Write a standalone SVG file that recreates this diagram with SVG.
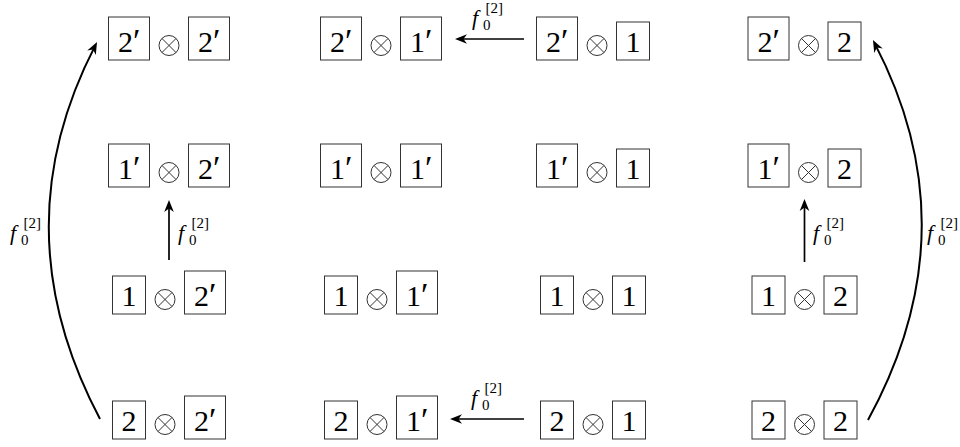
<svg xmlns="http://www.w3.org/2000/svg" width="960" height="447" viewBox="0 0 960 447">
<defs>
<g id="ot"><circle cx="0" cy="0" r="10" fill="none" stroke="#333" stroke-width="1"/><path d="M-7.07,-7.07L7.07,7.07M-7.07,7.07L7.07,-7.07" stroke="#333" stroke-width="1"/></g>
<rect id="bp" x="0" y="-43" width="41" height="43" fill="none" stroke="#333" stroke-width="1"/>
<rect id="bu" x="0" y="-38" width="33" height="38" fill="none" stroke="#333" stroke-width="1"/>
<marker id="ah" markerUnits="userSpaceOnUse" viewBox="-17 -6 18 12" refX="-4" refY="0" markerWidth="18" markerHeight="12" orient="auto"><path d="M0,0L-12,-4.8L-8.5,0L-12,4.8Z" fill="#000"/></marker>
</defs>
<rect width="960" height="447" fill="#fff"/>

<g id="n-2p-2p" transform="translate(108.5,60)"><use href="#bp"/><text font-family="Liberation Serif, serif" font-size="30" x="9.5" y="-8">2<tspan font-size="34">′</tspan></text><use href="#ot" x="60.5" y="-14.5"/><use href="#bp" x="80"/><text font-family="Liberation Serif, serif" font-size="30" x="89.5" y="-8">2<tspan font-size="34">′</tspan></text></g>
<g id="n-2p-1p" transform="translate(320.5,60)"><use href="#bp"/><text font-family="Liberation Serif, serif" font-size="30" x="9.5" y="-8">2<tspan font-size="34">′</tspan></text><use href="#ot" x="60.5" y="-14.5"/><use href="#bp" x="80"/><text font-family="Liberation Serif, serif" font-size="30" x="89.5" y="-8">1<tspan font-size="34">′</tspan></text></g>
<g id="n-2p-1" transform="translate(536.5,60)"><use href="#bp"/><text font-family="Liberation Serif, serif" font-size="30" x="9.5" y="-8">2<tspan font-size="34">′</tspan></text><use href="#ot" x="60.5" y="-14.5"/><use href="#bu" x="80"/><text font-family="Liberation Serif, serif" font-size="30" text-anchor="middle" x="96.5" y="-8">1</text></g>
<g id="n-2p-2" transform="translate(748,60)"><use href="#bp"/><text font-family="Liberation Serif, serif" font-size="30" x="9.5" y="-8">2<tspan font-size="34">′</tspan></text><use href="#ot" x="60.5" y="-14.5"/><use href="#bu" x="80"/><text font-family="Liberation Serif, serif" font-size="30" text-anchor="middle" x="96.5" y="-8">2</text></g>

<g id="n-1p-2p" transform="translate(108.5,187)"><use href="#bp"/><text font-family="Liberation Serif, serif" font-size="30" x="9.5" y="-8">1<tspan font-size="34">′</tspan></text><use href="#ot" x="60.5" y="-14.5"/><use href="#bp" x="80"/><text font-family="Liberation Serif, serif" font-size="30" x="89.5" y="-8">2<tspan font-size="34">′</tspan></text></g>
<g id="n-1p-1p" transform="translate(320.5,187)"><use href="#bp"/><text font-family="Liberation Serif, serif" font-size="30" x="9.5" y="-8">1<tspan font-size="34">′</tspan></text><use href="#ot" x="60.5" y="-14.5"/><use href="#bp" x="80"/><text font-family="Liberation Serif, serif" font-size="30" x="89.5" y="-8">1<tspan font-size="34">′</tspan></text></g>
<g id="n-1p-1" transform="translate(536.5,187)"><use href="#bp"/><text font-family="Liberation Serif, serif" font-size="30" x="9.5" y="-8">1<tspan font-size="34">′</tspan></text><use href="#ot" x="60.5" y="-14.5"/><use href="#bu" x="80"/><text font-family="Liberation Serif, serif" font-size="30" text-anchor="middle" x="96.5" y="-8">1</text></g>
<g id="n-1p-2" transform="translate(748,187)"><use href="#bp"/><text font-family="Liberation Serif, serif" font-size="30" x="9.5" y="-8">1<tspan font-size="34">′</tspan></text><use href="#ot" x="60.5" y="-14.5"/><use href="#bu" x="80"/><text font-family="Liberation Serif, serif" font-size="30" text-anchor="middle" x="96.5" y="-8">2</text></g>

<g id="n-1-2p" transform="translate(112.5,314)"><use href="#bu"/><text font-family="Liberation Serif, serif" font-size="30" text-anchor="middle" x="16.5" y="-8">1</text><use href="#ot" x="52.5" y="-14.5"/><use href="#bp" x="72"/><text font-family="Liberation Serif, serif" font-size="30" x="81.5" y="-8">2<tspan font-size="34">′</tspan></text></g>
<g id="n-1-1p" transform="translate(324.5,314)"><use href="#bu"/><text font-family="Liberation Serif, serif" font-size="30" text-anchor="middle" x="16.5" y="-8">1</text><use href="#ot" x="52.5" y="-14.5"/><use href="#bp" x="72"/><text font-family="Liberation Serif, serif" font-size="30" x="81.5" y="-8">1<tspan font-size="34">′</tspan></text></g>
<g id="n-1-1" transform="translate(540.5,314)"><use href="#bu"/><text font-family="Liberation Serif, serif" font-size="30" text-anchor="middle" x="16.5" y="-8">1</text><use href="#ot" x="52.5" y="-14.5"/><use href="#bu" x="72"/><text font-family="Liberation Serif, serif" font-size="30" text-anchor="middle" x="88.5" y="-8">1</text></g>
<g id="n-1-2" transform="translate(752,314)"><use href="#bu"/><text font-family="Liberation Serif, serif" font-size="30" text-anchor="middle" x="16.5" y="-8">1</text><use href="#ot" x="52.5" y="-14.5"/><use href="#bu" x="72"/><text font-family="Liberation Serif, serif" font-size="30" text-anchor="middle" x="88.5" y="-8">2</text></g>

<g id="n-2-2p" transform="translate(112.5,439)"><use href="#bu"/><text font-family="Liberation Serif, serif" font-size="30" text-anchor="middle" x="16.5" y="-8">2</text><use href="#ot" x="52.5" y="-14.5"/><use href="#bp" x="72"/><text font-family="Liberation Serif, serif" font-size="30" x="81.5" y="-8">2<tspan font-size="34">′</tspan></text></g>
<g id="n-2-1p" transform="translate(324.5,439)"><use href="#bu"/><text font-family="Liberation Serif, serif" font-size="30" text-anchor="middle" x="16.5" y="-8">2</text><use href="#ot" x="52.5" y="-14.5"/><use href="#bp" x="72"/><text font-family="Liberation Serif, serif" font-size="30" x="81.5" y="-8">1<tspan font-size="34">′</tspan></text></g>
<g id="n-2-1" transform="translate(540.5,439)"><use href="#bu"/><text font-family="Liberation Serif, serif" font-size="30" text-anchor="middle" x="16.5" y="-8">2</text><use href="#ot" x="52.5" y="-14.5"/><use href="#bu" x="72"/><text font-family="Liberation Serif, serif" font-size="30" text-anchor="middle" x="88.5" y="-8">1</text></g>
<g id="n-2-2" transform="translate(752,439)"><use href="#bu"/><text font-family="Liberation Serif, serif" font-size="30" text-anchor="middle" x="16.5" y="-8">2</text><use href="#ot" x="52.5" y="-14.5"/><use href="#bu" x="72"/><text font-family="Liberation Serif, serif" font-size="30" text-anchor="middle" x="88.5" y="-8">2</text></g>

<g id="connectors" fill="none" stroke="#000">
<line stroke-width="1.7" x1="524" y1="39" x2="459" y2="39" marker-end="url(#ah)"/>
<line stroke-width="1.7" x1="524" y1="419" x2="454" y2="419" marker-end="url(#ah)"/>
<line stroke-width="1.7" x1="169" y1="260" x2="169" y2="204" marker-end="url(#ah)"/>
<line stroke-width="1.7" x1="804.5" y1="262" x2="804.5" y2="203" marker-end="url(#ah)"/>
<path stroke-width="2" d="M100,419Q0,230 95.2,45.6" marker-end="url(#ah)"/>
<path stroke-width="2" d="M868,420Q972,230 874.8,43.6" marker-end="url(#ah)"/>
</g>
<g id="labels">
<text font-family="Liberation Serif, serif" font-size="22" x="472" y="25"><tspan font-style="italic">f</tspan><tspan font-size="15" x="483" dy="5">0</tspan><tspan font-size="15" x="485.5" dy="-17">[2]</tspan></text>
<text font-family="Liberation Serif, serif" font-size="22" x="471" y="405"><tspan font-style="italic">f</tspan><tspan font-size="15" x="482" dy="5">0</tspan><tspan font-size="15" x="484.5" dy="-17">[2]</tspan></text>
<text font-family="Liberation Serif, serif" font-size="22" x="178" y="240"><tspan font-style="italic">f</tspan><tspan font-size="15" x="189" dy="5">0</tspan><tspan font-size="15" x="191.5" dy="-17">[2]</tspan></text>
<text font-family="Liberation Serif, serif" font-size="22" x="813" y="240"><tspan font-style="italic">f</tspan><tspan font-size="15" x="824" dy="5">0</tspan><tspan font-size="15" x="826.5" dy="-17">[2]</tspan></text>
<text font-family="Liberation Serif, serif" font-size="22" x="10" y="240"><tspan font-style="italic">f</tspan><tspan font-size="15" x="21" dy="5">0</tspan><tspan font-size="15" x="23.5" dy="-17">[2]</tspan></text>
<text font-family="Liberation Serif, serif" font-size="22" x="927" y="240"><tspan font-style="italic">f</tspan><tspan font-size="15" x="938" dy="5">0</tspan><tspan font-size="15" x="940.5" dy="-17">[2]</tspan></text>
</g>
</svg>
